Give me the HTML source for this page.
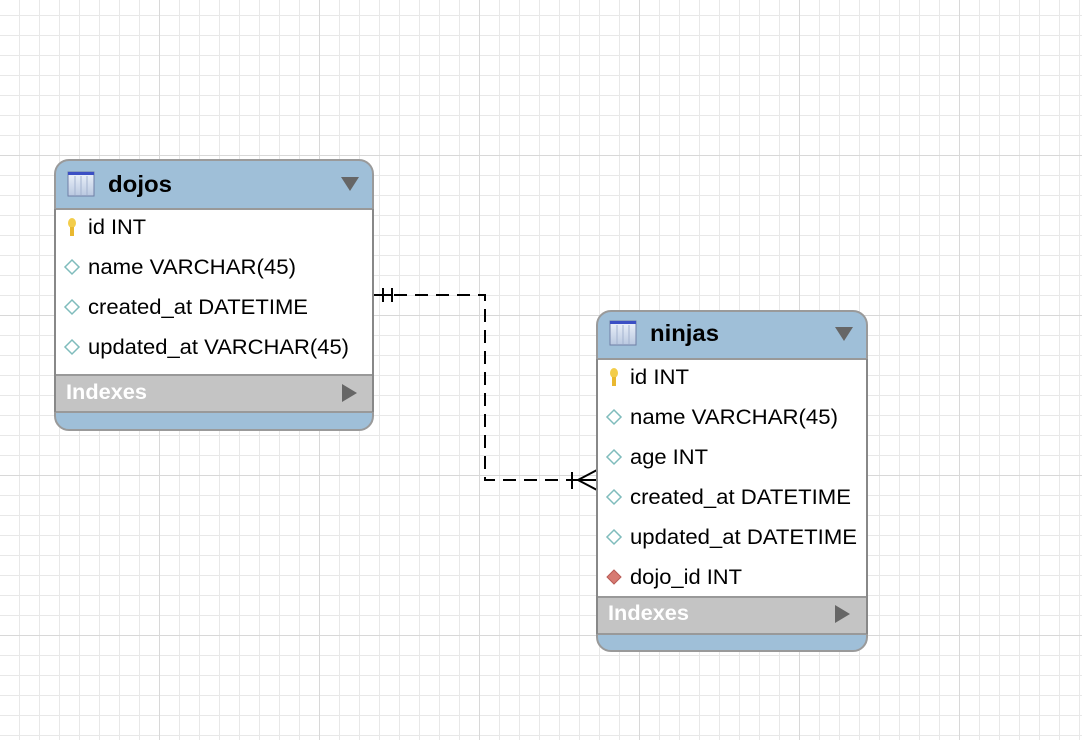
<!DOCTYPE html>
<html><head><meta charset="utf-8"><style>
html,body{margin:0;padding:0;background:#fff;}
svg{display:block;font-family:"Liberation Sans",Arial,sans-serif;}
</style></head><body>
<svg width="1082" height="740" viewBox="0 0 1082 740" xmlns="http://www.w3.org/2000/svg">
<defs>
<pattern id="minor" x="19" y="15" width="20" height="20" patternUnits="userSpaceOnUse">
<path d="M0 0H20M0 0V20" stroke="#e8e8e8" stroke-width="2" fill="none"/>
</pattern>
<pattern id="major" x="159" y="155" width="160" height="160" patternUnits="userSpaceOnUse">
<path d="M0 0H160M0 0V160" stroke="#d8d8d8" stroke-width="2" fill="none"/>
</pattern>
<linearGradient id="ic" x1="0" y1="0" x2="0" y2="1"><stop offset="0" stop-color="#eef3fb"/><stop offset="1" stop-color="#b9c8e0"/></linearGradient>
<g id="tblicon">
<rect x="0" y="0" width="26" height="24" fill="url(#ic)" stroke="#6f7fa6" stroke-width="1"/>
<rect x="0" y="0" width="26" height="3" fill="#3b4fc4"/>
<path d="M7 4V23M13 4V23M19 4V23" stroke="#a4b3cf" stroke-width="1"/>
</g>
<g id="dia"><path d="M0 -7L7 0L0 7L-7 0Z" fill="#fff" stroke="#7fbcbc" stroke-width="1.5"/></g>
<g id="dred"><path d="M0 -7L7 0L0 7L-7 0Z" fill="#d77a72" stroke="#b85a55" stroke-width="1"/></g>
<g id="key"><ellipse cx="0" cy="-4" rx="4" ry="5" fill="#f3cd4a"/><rect x="-2" y="0" width="4" height="9" fill="#e9b830"/></g>
</defs>
<rect width="1082" height="740" fill="#fff"/>
<rect width="1082" height="740" fill="url(#minor)"/>
<rect width="1082" height="740" fill="url(#major)"/>

<g stroke="#000" stroke-width="2" fill="none">
<path d="M373 295H485V480H597" stroke-dasharray="13 8"/>
<path d="M383 288V302M392 288V302M373 295H392"/>
<path d="M572 472V489M572 480H597M578 480L597 470M578 480L597 490"/>
</g>

<g font-size="21">
<rect x="55" y="160" width="318" height="270" rx="14" fill="#9fbfd8" stroke="#9a9a9a" stroke-width="2"/>
<rect x="56" y="209" width="316" height="166" fill="#fff"/>
<rect x="56" y="375" width="316" height="37" fill="#c4c4c4"/>
<path d="M55 209H373M55 375H373M55 412H373" stroke="#999" stroke-width="2"/>
<path d="M55 209V412M373 209V412" stroke="#888" stroke-width="2"/>
<use href="#tblicon" x="68" y="172"/>
<text x="108" y="192" font-size="23" font-weight="bold" textLength="64" lengthAdjust="spacingAndGlyphs">dojos</text>
<path d="M341 177H359L350 191Z" fill="#666"/>
<use href="#key" x="72" y="227"/>
<text x="88" y="234" textLength="58" lengthAdjust="spacingAndGlyphs">id INT</text>
<use href="#dia" x="72" y="267"/><text x="88" y="274" textLength="208" lengthAdjust="spacingAndGlyphs">name VARCHAR(45)</text>
<use href="#dia" x="72" y="307"/><text x="88" y="314" textLength="220" lengthAdjust="spacingAndGlyphs">created_at DATETIME</text>
<use href="#dia" x="72" y="347"/><text x="88" y="354" textLength="261" lengthAdjust="spacingAndGlyphs">updated_at VARCHAR(45)</text>
<text x="66" y="399" font-weight="bold" fill="#fff" textLength="81" lengthAdjust="spacingAndGlyphs">Indexes</text>
<path d="M342 384L357 393L342 402Z" fill="#666"/>
</g>

<g font-size="21">
<rect x="597" y="311" width="270" height="340" rx="14" fill="#9fbfd8" stroke="#9a9a9a" stroke-width="2"/>
<rect x="598" y="359" width="268" height="238" fill="#fff"/>
<rect x="598" y="597" width="268" height="37" fill="#c4c4c4"/>
<path d="M597 359H867M597 597H867M597 634H867" stroke="#999" stroke-width="2"/>
<path d="M597 359V634M867 359V634" stroke="#888" stroke-width="2"/>
<use href="#tblicon" x="610" y="321"/>
<text x="650" y="341" font-size="23" font-weight="bold" textLength="69" lengthAdjust="spacingAndGlyphs">ninjas</text>
<path d="M835 327H853L844 341Z" fill="#666"/>
<use href="#key" x="614" y="377"/>
<text x="630" y="384" textLength="59" lengthAdjust="spacingAndGlyphs">id INT</text>
<use href="#dia" x="614" y="417"/><text x="630" y="424" textLength="208" lengthAdjust="spacingAndGlyphs">name VARCHAR(45)</text>
<use href="#dia" x="614" y="457"/><text x="630" y="464" textLength="78" lengthAdjust="spacingAndGlyphs">age INT</text>
<use href="#dia" x="614" y="497"/><text x="630" y="504" textLength="221" lengthAdjust="spacingAndGlyphs">created_at DATETIME</text>
<use href="#dia" x="614" y="537"/><text x="630" y="544" textLength="227" lengthAdjust="spacingAndGlyphs">updated_at DATETIME</text>
<use href="#dred" x="614" y="577"/><text x="630" y="584" textLength="112" lengthAdjust="spacingAndGlyphs">dojo_id INT</text>
<text x="608" y="620" font-weight="bold" fill="#fff" textLength="81" lengthAdjust="spacingAndGlyphs">Indexes</text>
<path d="M835 605L850 614L835 623Z" fill="#666"/>
</g>
</svg>
</body></html>
